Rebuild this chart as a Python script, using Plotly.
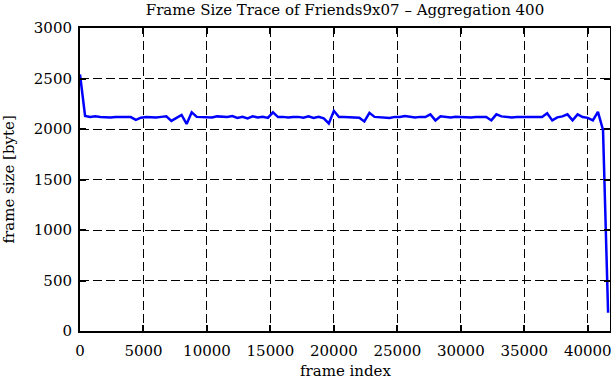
import plotly.graph_objects as go

step = 400
frame_size = [
    2540, 2130, 2120, 2125, 2118, 2115, 2115, 2118, 2116, 2115,  # 0 - 3600
    2118, 2090, 2112, 2118, 2116, 2115, 2120, 2125, 2080, 2110,  # 4000 - 7600
    2140, 2050, 2165, 2120, 2118, 2110, 2115, 2125, 2120, 2118,  # 8000 - 11600
    2128, 2110, 2120, 2105, 2125, 2115, 2120, 2110, 2165, 2118,  # 12000 - 15600
    2120, 2115, 2118, 2120, 2112, 2125, 2110, 2120, 2105, 2055,  # 16000 - 19600
    2180, 2118, 2120, 2118, 2115, 2112, 2075, 2160, 2120, 2118,  # 20000 - 23600
    2115, 2110, 2120, 2118, 2128, 2118, 2115, 2120, 2118, 2145,  # 24000 - 27600
    2085, 2125, 2118, 2115, 2122, 2118, 2120, 2115, 2118, 2120,  # 28000 - 31600
    2118, 2085, 2145, 2125, 2118, 2115, 2118, 2118, 2120, 2118,  # 32000 - 35600
    2120, 2118, 2155, 2085, 2115, 2125, 2145, 2085, 2145, 2118,  # 36000 - 39600
    2110, 2085, 2170, 1990, 180,                                   # 40000 - 41600
]
frame_index = [i * step for i in range(len(frame_size))]

x_ticks = [0, 5000, 10000, 15000, 20000, 25000, 30000, 35000, 40000]
y_ticks = [0, 500, 1000, 1500, 2000, 2500, 3000]

title_text = "Frame Size Trace of Friends9x07 – Aggregation 400"
x_title = "frame index"
y_title = "frame size [byte]"

FONT = "DejaVu Serif, Liberation Serif, serif"
W, H = 611, 380
L, R, T, B = 80, 1, 28, 49
PW, PH = W - L - R, H - T - B

fig = go.Figure()
fig.add_trace(go.Scatter(
    x=frame_index, y=frame_size, mode="lines",
    line=dict(color="#0000ff", width=2.5),
    showlegend=False, hoverinfo="skip",
))

axis_common = dict(
    showline=True, linecolor="black", linewidth=2, mirror="ticks",
    ticks="inside", ticklen=6, tickwidth=1.5, tickcolor="black",
    showgrid=True, gridcolor="black", gridwidth=1, griddash="9px,4px",
    zeroline=False, automargin=False, ticklabeloverflow="allow",
    tickfont=dict(family=FONT, size=15, color="black"),
)

fig.update_layout(
    width=W, height=H,
    margin=dict(l=L, r=R, t=T, b=B),
    paper_bgcolor="white", plot_bgcolor="white",
    font=dict(family=FONT, color="black"),
    title=dict(text=title_text,
               x=0.5, xanchor="center", xref="paper",
               y=1 - 10 / H, yanchor="middle", yref="container",
               font=dict(family=FONT, size=15, color="black")),
    xaxis=dict(range=[0, 41750], tickvals=x_ticks,
               ticktext=[str(v) for v in x_ticks],
               ticklabelstandoff=5, **axis_common),
    yaxis=dict(range=[0, 3000], tickvals=y_ticks,
               ticktext=[str(v) for v in y_ticks],
               ticklabelstandoff=3, **axis_common),
    annotations=[
        dict(text=x_title, xref="paper", yref="paper", x=0.5, y=-(371 - (T + PH)) / PH,
             xanchor="center", yanchor="middle", showarrow=False,
             font=dict(family=FONT, size=15, color="black")),
        dict(text=y_title, xref="paper", yref="paper", x=-(L - 8) / PW, y=0.5,
             xanchor="center", yanchor="middle", showarrow=False, textangle=-90,
             font=dict(family=FONT, size=15, color="black")),
    ],
)

fig.write_html("out.html", config={"displayModeBar": False},
               post_script="document.body.style.margin='0px';")
